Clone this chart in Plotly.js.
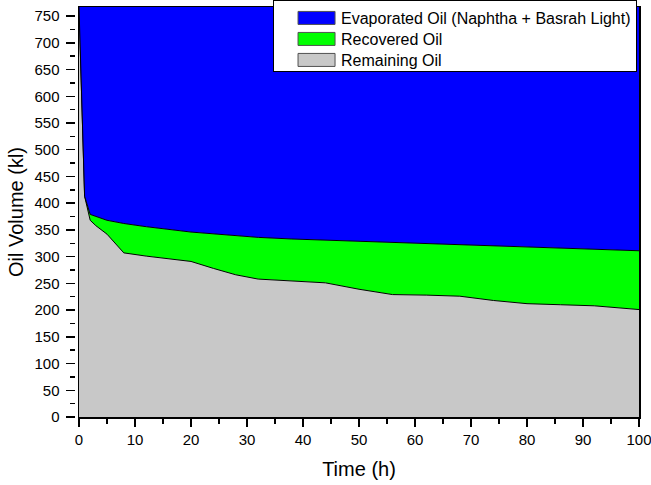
<!DOCTYPE html>
<html>
<head>
<meta charset="utf-8">
<script src="https://cdn.plot.ly/plotly-3.0.1.min.js"></script>
<style>html,body{margin:0;padding:0;background:#fff;}#chart{width:651px;height:485px;}</style>
</head>
<body>
<div id="chart"></div>
<script>
// Data
const totalOil = 767;
const timeH = [0, 0.3, 0.6, 1, 2, 3, 5, 8, 12, 20, 24, 28, 32, 38, 44, 50, 56, 62, 68, 74, 80, 86, 92, 100];
const remainingOil = [767, 650, 520, 413, 368, 358, 342, 307, 301, 291, 278, 266, 258, 255, 251, 239, 229, 228, 226, 218, 212, 210, 208, 201];
const recoveredTop = [767, 650, 520, 413, 379, 375, 368, 362, 356, 346, 343, 339, 336, 333, 331, 328, 327, 325, 323, 321, 319, 317, 315, 311];
const recoveredOil = recoveredTop.map((v, i) => v - remainingOil[i]);
const evaporatedOil = recoveredTop.map(v => totalOil - v);
const xTicks = [0, 10, 20, 30, 40, 50, 60, 70, 80, 90, 100];
const yTicks = [0, 50, 100, 150, 200, 250, 300, 350, 400, 450, 500, 550, 600, 650, 700, 750];

const lineStyle = {color: '#000000', width: 1};
const traces = [
  {x: timeH, y: remainingOil, name: 'Remaining Oil', type: 'scatter', mode: 'lines',
   stackgroup: 'one', fillcolor: '#C8C8C8', line: lineStyle, hoverinfo: 'skip'},
  {x: timeH, y: recoveredOil, name: 'Recovered Oil', type: 'scatter', mode: 'lines',
   stackgroup: 'one', fillcolor: '#00FF00', line: lineStyle, hoverinfo: 'skip'},
  {x: timeH, y: evaporatedOil, name: 'Evaporated Oil (Naphtha + Basrah Light)', type: 'scatter', mode: 'lines',
   stackgroup: 'one', fillcolor: '#0000FF', line: {color: '#0000FF', width: 0}, hoverinfo: 'skip'}
];

const FAM = 'Liberation Sans, Arial, sans-serif';
const tickFont = {family: FAM, size: 15, color: '#000'};
const layout = {
  width: 651, height: 485,
  margin: {l: 79, r: 12, t: 7, b: 68, autoexpand: false},
  paper_bgcolor: '#ffffff', plot_bgcolor: '#ffffff',
  font: tickFont,
  showlegend: true,
  legend: {
    x: 0.9965, y: 1.017, xanchor: 'right', yanchor: 'top',
    bgcolor: '#ffffff', bordercolor: '#000000', borderwidth: 1,
    traceorder: 'reversed', itemwidth: 40,
    font: {family: FAM, size: 16, color: '#000'},
    tracegroupgap: 0
  },
  xaxis: {
    range: [0, 100], tickvals: xTicks, ticktext: xTicks.map(String),
    ticks: 'outside', ticklen: 8, tickwidth: 1.5, tickcolor: '#000',
    minor: {dtick: 5, ticks: 'outside', ticklen: 5, tickwidth: 1.5, tickcolor: '#000', showgrid: false},
    showline: true, linecolor: '#000', linewidth: 1.5, mirror: true,
    showgrid: false, zeroline: false, tickfont: tickFont, ticklabeloverflow: 'allow',
    title: {text: 'Time (h)', font: {family: FAM, size: 20, color: '#000'}, standoff: 15}
  },
  yaxis: {
    range: [0, totalOil], tickvals: yTicks, ticktext: yTicks.map(String),
    ticks: 'outside', ticklen: 9, tickwidth: 1.5, tickcolor: '#000',
    minor: {dtick: 25, ticks: 'outside', ticklen: 5, tickwidth: 1.5, tickcolor: '#000', showgrid: false},
    showline: true, linecolor: '#000', linewidth: 1.5, mirror: true,
    showgrid: false, zeroline: false, tickfont: tickFont, ticklabelstandoff: 3,
    title: {text: 'Oil Volume (kl)', font: {family: FAM, size: 20, color: '#000'}, standoff: 0}
  }
};
Plotly.newPlot('chart', traces, layout, {displayModeBar: false, staticPlot: true}).then(gd => {
  // Draw legend swatches as boxed rectangles and tighten rows, as in the reference
  const items = Array.from(gd.querySelectorAll('.legend .traces'));
  const rowGap = 21;
  let firstY = null, shrink = 0;
  items.forEach((t, i) => {
    const line = t.querySelector('.js-line');
    if (line) line.style.display = 'none';
    const fill = t.querySelector('.js-fill');
    if (fill) {
      fill.setAttribute('d', 'M7,-6.5h37v13h-37z');
      fill.style.stroke = '#505050';
      fill.style.strokeWidth = '1px';
    }
    const m = /translate\(\s*([-\d.]+)[ ,]+([-\d.]+)\s*\)/.exec(t.getAttribute('transform') || '');
    if (m) {
      const x = parseFloat(m[1]), y = parseFloat(m[2]);
      if (firstY === null) firstY = y;
      const ny = firstY + i * rowGap;
      if (i === items.length - 1) shrink = y - ny;
      t.setAttribute('transform', 'translate(' + x + ',' + ny + ')');
    }
  });
  const bg = gd.querySelector('.legend rect.bg');
  if (bg) {
    const h = parseFloat(bg.getAttribute('height'));
    const w = parseFloat(bg.getAttribute('width'));
    const x = parseFloat(bg.getAttribute('x') || 0);
    const extra = 17;
    bg.setAttribute('height', h - shrink - 6);
    bg.setAttribute('x', x - extra);
    bg.setAttribute('width', w + extra);
  }
  // Nudge the y-axis title and tick labels outward to match the reference spacing
  const yt = gd.querySelector('.ytitle');
  if (yt) {
    const prev = yt.getAttribute('transform') || '';
    yt.setAttribute('transform', 'translate(-8,0) ' + prev);
  }
  gd.querySelectorAll('.yaxislayer-above .ytick').forEach(tk => {
    const prev = tk.getAttribute('transform') || '';
    tk.setAttribute('transform', 'translate(-3,0) ' + prev);
  });
});
</script>
</body>
</html>
